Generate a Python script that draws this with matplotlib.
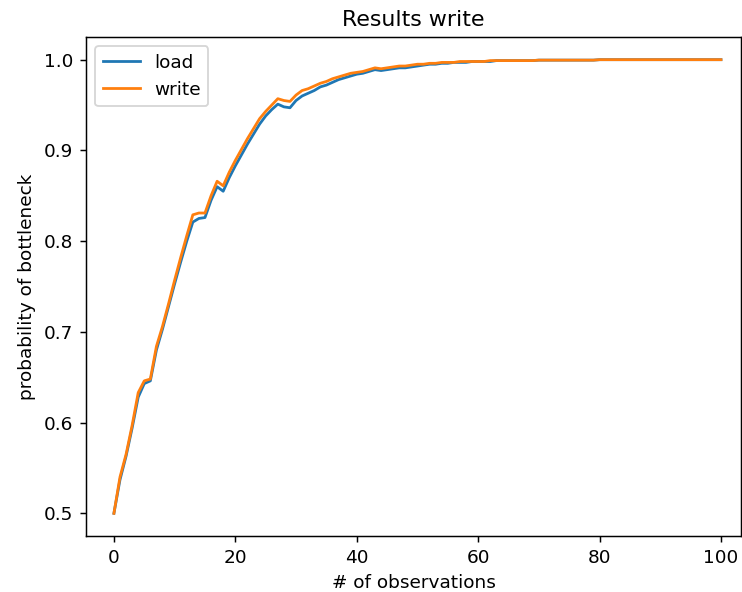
import matplotlib
matplotlib.use("Agg")
import matplotlib.pyplot as plt

observations = list(range(101))

load = [
    0.500, 0.537, 0.563, 0.594, 0.628, 0.643, 0.646, 0.680, 0.703, 0.728,
    0.753, 0.777, 0.800, 0.821, 0.825, 0.826, 0.845, 0.860, 0.855, 0.870,
    0.883, 0.895, 0.907, 0.918, 0.929, 0.938, 0.945, 0.951, 0.948, 0.947,
    0.955, 0.960, 0.963, 0.966, 0.970, 0.972, 0.975, 0.978, 0.980, 0.982,
    0.984, 0.985, 0.987, 0.989, 0.988, 0.989, 0.990, 0.991, 0.991, 0.992,
    0.993, 0.994, 0.995, 0.995, 0.996, 0.996, 0.997, 0.997, 0.997, 0.998,
    0.998, 0.998, 0.998, 0.999, 0.999, 0.999, 0.999, 0.999, 0.999, 0.999,
    0.9995, 0.9995, 0.9995, 0.9995, 0.9995, 0.9995, 0.9995, 0.9995, 0.9995, 0.9995,
    1.000, 1.000, 1.000, 1.000, 1.000, 1.000, 1.000, 1.000, 1.000, 1.000,
    1.000, 1.000, 1.000, 1.000, 1.000, 1.000, 1.000, 1.000, 1.000, 1.000,
    1.000,
]

write = [
    0.500, 0.540, 0.565, 0.597, 0.633, 0.646, 0.648, 0.684, 0.706, 0.731,
    0.757, 0.782, 0.806, 0.829, 0.831, 0.831, 0.850, 0.866, 0.861, 0.876,
    0.889, 0.901, 0.913, 0.924, 0.935, 0.943, 0.950, 0.957, 0.955, 0.954,
    0.961, 0.966, 0.968, 0.971, 0.974, 0.976, 0.979, 0.981, 0.983, 0.985,
    0.986, 0.987, 0.989, 0.991, 0.990, 0.991, 0.992, 0.993, 0.993, 0.994,
    0.995, 0.995, 0.996, 0.996, 0.997, 0.997, 0.997, 0.998, 0.998, 0.998,
    0.998, 0.998, 0.999, 0.999, 0.999, 0.999, 0.999, 0.999, 0.999, 0.999,
    0.9995, 0.9995, 0.9995, 0.9995, 0.9995, 0.9995, 0.9995, 0.9995, 0.9995, 0.9995,
    1.000, 1.000, 1.000, 1.000, 1.000, 1.000, 1.000, 1.000, 1.000, 1.000,
    1.000, 1.000, 1.000, 1.000, 1.000, 1.000, 1.000, 1.000, 1.000, 1.000,
    1.000,
]

dpi = 133
fig = plt.figure(figsize=(742 / dpi, 592 / dpi), dpi=dpi)
ax = fig.add_axes([86 / 742, 56 / 592, 655 / 742, 499 / 592])

ax.plot(observations, load, label="load")
ax.plot(observations, write, label="write")
ax.set_xlim(-4.6, 103.3)
ax.set_title("Results write")
ax.set_xlabel("# of observations")
ax.set_ylabel("probability of bottleneck")
ax.legend(loc="upper left")

fig.savefig("out.png", dpi=dpi)
